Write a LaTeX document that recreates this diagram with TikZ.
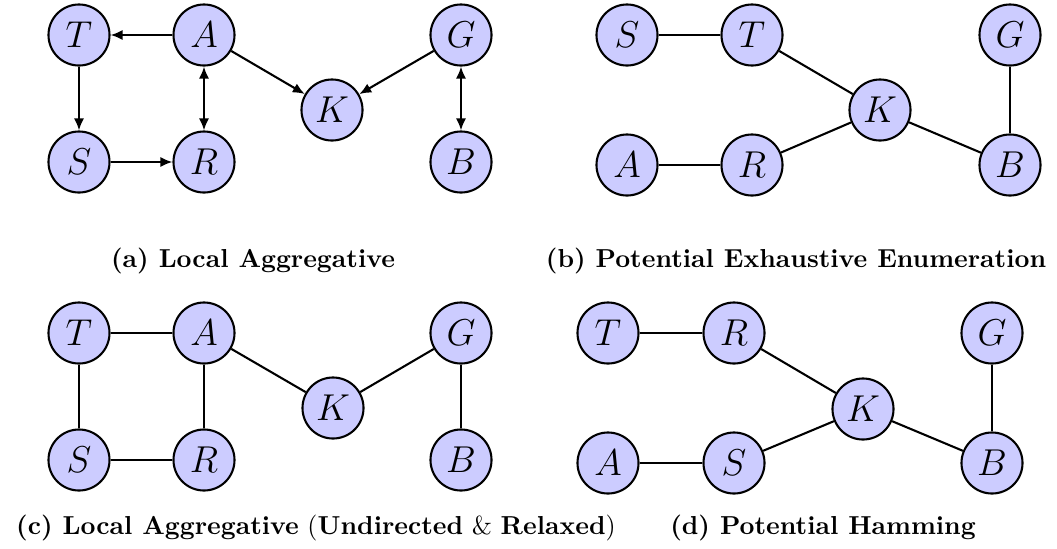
\documentclass[tikz,border=0pt]{standalone}
\usepackage{amsmath,amssymb}
\usepackage{xcolor}
\usepackage{tikz}
\usetikzlibrary{arrows.meta}
\definecolor{vfill}{RGB}{204,204,255}

\begin{document}
\begin{tikzpicture}[
  x=0.385pt,y=-0.385pt,
  var/.style={circle,draw,thick,fill=vfill,minimum size=23.5pt,inner sep=0pt,font=\Large},
  arr/.style={-{Latex[length=4.6pt,width=3.9pt]},thick},
  dblarr/.style={{Latex[length=4.6pt,width=3.9pt]}-{Latex[length=4.6pt,width=3.9pt]},thick},
  link/.style={thick},
  subcap/.style={anchor=base,font=\normalsize}
]
\useasboundingbox (0,0) rectangle (1057,548);
% (a) local aggregative
\node[var] (aT) at (79,35) {$T$};
\node[var] (aA) at (204,35) {$A$};
\node[var] (aK) at (332,110) {$K$};
\node[var] (aG) at (461,35) {$G$};
\node[var] (aS) at (79,162) {$S$};
\node[var] (aR) at (204,162) {$R$};
\node[var] (aB) at (461,162) {$B$};
\draw[arr] (aA)--(aT);
\draw[arr] (aT)--(aS);
\draw[arr] (aS)--(aR);
\draw[dblarr] (aA)--(aR);
\draw[arr] (aA)--(aK);
\draw[arr] (aG)--(aK);
\draw[dblarr] (aG)--(aB);
\node[subcap] (capa) at (253,267) {\textbf{(a) Local Aggregative}};
% (b) potential exhaustive enumeration
\node[var] (bS) at (627,35) {$S$};
\node[var] (bT) at (752,35) {$T$};
\node[var] (bK) at (880,110) {$K$};
\node[var] (bG) at (1010,35) {$G$};
\node[var] (bA) at (627,165) {$A$};
\node[var] (bR) at (752,165) {$R$};
\node[var] (bB) at (1010,165) {$B$};
\draw[link] (bS)--(bT);
\draw[link] (bT)--(bK);
\draw[link] (bA)--(bR);
\draw[link] (bR)--(bK);
\draw[link] (bK)--(bB);
\draw[link] (bG)--(bB);
\node[subcap] (capb) at (796,267) {\textbf{(b) Potential Exhaustive Enumeration}};
% (c) undirected, relaxed
\node[var] (cT) at (79,333) {$T$};
\node[var] (cA) at (204,333) {$A$};
\node[var] (cK) at (333,408) {$K$};
\node[var] (cG) at (461,333) {$G$};
\node[var] (cS) at (79,460) {$S$};
\node[var] (cR) at (204,460) {$R$};
\node[var] (cB) at (461,460) {$B$};
\draw[link] (cT)--(cA);
\draw[link] (cT)--(cS);
\draw[link] (cS)--(cR);
\draw[link] (cA)--(cR);
\draw[link] (cA)--(cK);
\draw[link] (cG)--(cK);
\draw[link] (cG)--(cB);
\node[subcap] (capc) at (316,534)
  {\textbf{(c) Local Aggregative} (\textbf{Undirected} \& \textbf{Relaxed})};
% (d) potential hamming
\node[var] (dT) at (608,333) {$T$};
\node[var] (dR) at (734,333) {$R$};
\node[var] (dK) at (863,409) {$K$};
\node[var] (dG) at (992,333) {$G$};
\node[var] (dA) at (608,463) {$A$};
\node[var] (dS) at (734,463) {$S$};
\node[var] (dB) at (992,463) {$B$};
\draw[link] (dT)--(dR);
\draw[link] (dR)--(dK);
\draw[link] (dA)--(dS);
\draw[link] (dS)--(dK);
\draw[link] (dK)--(dB);
\draw[link] (dG)--(dB);
\node[subcap] (capd) at (823,534) {\textbf{(d) Potential Hamming}};
\end{tikzpicture}
\end{document}
